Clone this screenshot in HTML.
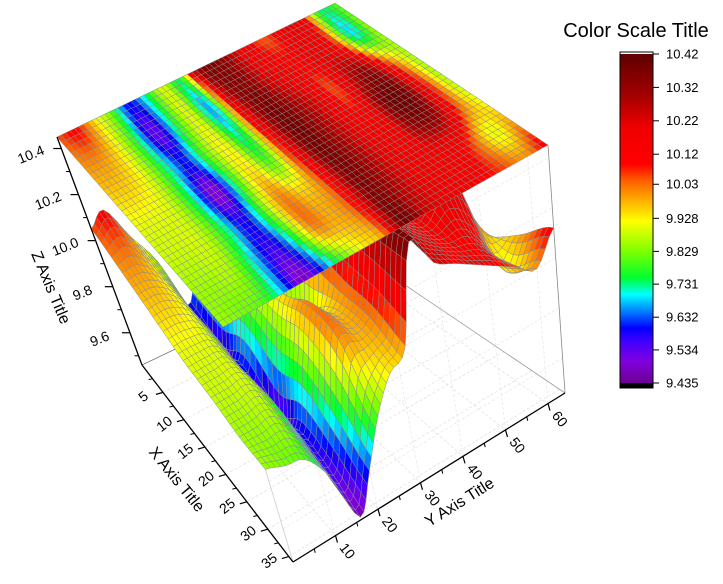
<!DOCTYPE html>
<html><head><meta charset="utf-8">
<style>
html,body{margin:0;padding:0;background:#fff;}
svg{display:block;font-family:"Liberation Sans",Arial,sans-serif;}
</style></head>
<body>
<svg id="chart" width="723" height="584" viewBox="0 0 723 584" xmlns="http://www.w3.org/2000/svg">
  <g id="walls"></g>
  <g id="surface"></g>
  <g id="plane"></g>
  <g id="axes"></g>
  <g id="colorscale"></g>
  <text x="636" y="37" font-size="20" text-anchor="middle" fill="#000">Color Scale Title</text>
</svg>
<script>
// ---- data ----
const xGrid=[0,6,12,18,24,30,36];
const yGrid=[0,4,8,12,16,20,24,28,32,36,40,44,48,52,56,60,64];
const zRow0=[10.05,10.1,9.95,9.82,9.6,9.72,9.9,9.75,10.3,10.35,10.25,10.1,10.05,10.2,10.15,9.75,9.8];
const zRow6=[10.0,10.0,9.92,9.75,9.52,9.75,9.9,9.66,10.2,10.35,10.25,10.15,10.1,10.2,10.1,9.7,9.85];
const zRow12=[9.95,9.95,9.9,9.75,9.6,9.8,9.92,9.72,10.15,10.38,10.3,10.2,10.05,10.25,10.3,10.0,9.85];
const zRow18=[9.9,9.9,9.88,9.72,9.48,9.76,9.95,9.8,10.1,10.38,10.3,10.2,10.1,10.35,10.38,10.1,9.85];
const zRow24=[9.88,9.88,9.88,9.75,9.58,9.8,10.02,9.95,10.05,10.35,10.3,10.2,10.15,10.3,10.3,10.05,9.9];
const zRow30=[9.85,9.85,9.85,9.7,9.55,9.72,10.0,9.98,10.05,10.35,10.28,10.2,10.15,10.15,10.05,9.9,10.0];
const zRow36=[9.85,9.82,9.8,9.68,9.47,9.62,9.8,9.93,10.0,10.38,10.25,10.2,10.15,10.1,10.05,10.0,10.12];
const zRows=[zRow0,zRow6,zRow12,zRow18,zRow24,zRow30,zRow36];
const xTicks=[5,10,15,20,25,30,35];
const yTicks=[10,20,30,40,50,60];
const zTicks=[9.6,9.8,10.0,10.2,10.4];
const zTickLabels=["9.6","9.8","10.0","10.2","10.4"];
const csTicks=[10.42,10.32,10.22,10.12,10.03,9.928,9.829,9.731,9.632,9.534,9.435];
const csLabels=["10.42","10.32","10.22","10.12","10.03","9.928","9.829","9.731","9.632","9.534","9.435"];
const cmapVals=[9.435,9.5,9.56,9.6,9.65,9.7,9.75,9.83,9.92,9.98,10.04,10.09,10.2,10.3,10.42];
const cmapCols=["#6c0090","#8000e0","#4000ff","#0000ff","#0080ff","#00ffff","#00ff30","#80ff00","#ffff00","#ffb000","#ff6000","#ff0000","#f00000","#a00000","#600000"];

// ---- geometry ----
const XMAX=36,YMAX=64,ZMIN=9.46,ZMAX=10.45;
const B00=[142,365],B10=[293,562],B01=[365,258],B11=[565,393];
const T00=[57,137],T10=[223,327],T01=[335,3],T11=[548,145];
const NS="http://www.w3.org/2000/svg";
function bil(a,b,c,d,u,v){return [(1-u)*(1-v)*a[0]+u*(1-v)*b[0]+(1-u)*v*c[0]+u*v*d[0],(1-u)*(1-v)*a[1]+u*(1-v)*b[1]+(1-u)*v*c[1]+u*v*d[1]];}
function proj(x,y,z){const u=x/XMAX,v=y/YMAX,w=(z-ZMIN)/(ZMAX-ZMIN);
  const b=bil(B00,B10,B01,B11,u,v),t=bil(T00,T10,T01,T11,u,v);
  return [b[0]+(t[0]-b[0])*w,b[1]+(t[1]-b[1])*w];}
function hex(c){return [parseInt(c.substr(1,2),16),parseInt(c.substr(3,2),16),parseInt(c.substr(5,2),16)];}
function cmap(z){
  if(z<=cmapVals[0])return cmapCols[0];
  for(let i=1;i<cmapVals.length;i++){if(z<=cmapVals[i]){const t=(z-cmapVals[i-1])/(cmapVals[i]-cmapVals[i-1]);
    const a=hex(cmapCols[i-1]),b=hex(cmapCols[i]);return "rgb("+a.map((q,k)=>Math.round(q+(b[k]-q)*t)).join(",")+")";}}
  return cmapCols[cmapCols.length-1];}
function cr(p0,p1,p2,p3,t){return 0.5*((2*p1)+(-p0+p2)*t+(2*p0-5*p1+4*p2-p3)*t*t+(-p0+3*p1-3*p2+p3)*t*t*t);}
function zAt(x,y){
  const gx=x/(xGrid[1]-xGrid[0]),gy=y/(yGrid[1]-yGrid[0]);
  const nx=xGrid.length,ny=yGrid.length;
  let i=Math.min(Math.floor(gx),nx-2),j=Math.min(Math.floor(gy),ny-2);
  const tx=gx-i,ty=gy-j;const cl=(k,n)=>Math.max(0,Math.min(n-1,k));
  const r=[];for(let a=-1;a<=2;a++){const row=zRows[cl(i+a,nx)];
    r.push(cr(row[cl(j-1,ny)],row[j],row[j+1],row[cl(j+2,ny)],ty));}
  return cr(r[0],r[1],r[2],r[3],tx);}
function pts(a){return a.map(p=>p[0].toFixed(1)+","+p[1].toFixed(1)).join(" ");}
function line(g,a,b,st,sw,name,dash){const l=document.createElementNS(NS,"line");
  l.setAttribute("x1",a[0]);l.setAttribute("y1",a[1]);l.setAttribute("x2",b[0]);l.setAttribute("y2",b[1]);
  l.setAttribute("stroke",st);l.setAttribute("stroke-width",sw);if(dash)l.setAttribute("stroke-dasharray",dash);
  
  
  g.appendChild(l);return l;}
function text(g,x,y,s,size,rot,name,anchor){const t=document.createElementNS(NS,"text");
  t.setAttribute("x",x);t.setAttribute("y",y);t.setAttribute("font-size",size);t.setAttribute("text-anchor",anchor||"middle");
  t.setAttribute("dominant-baseline","middle");
  if(rot)t.setAttribute("transform","rotate("+rot+" "+x+" "+y+")");t.textContent=s;
  
  
  g.appendChild(t);return t;}

// ---- walls / floor grid ----
const walls=document.getElementById("walls");
xTicks.forEach(x=>{line(walls,proj(x,0,ZMIN),proj(x,YMAX,ZMIN),"#e2e2e2",0.8,"floor-grid-x","3,2");});
yTicks.forEach(y=>{line(walls,proj(0,y,ZMIN),proj(XMAX,y,ZMIN),"#e2e2e2",0.8,"floor-grid-y","3,2");
  line(walls,proj(XMAX,y,ZMIN),proj(XMAX,y,ZMAX),"#e8e8e8",0.8,"wall-grid-y","3,2");});
zTicks.forEach(z=>{line(walls,proj(XMAX,0,z),proj(XMAX,YMAX,z),"#e8e8e8",0.8,"wall-grid-z","3,2");});
line(walls,proj(0,0,ZMIN),proj(0,YMAX,ZMIN),"#777",0.8,"box-edge");
line(walls,proj(0,YMAX,ZMIN),proj(XMAX,YMAX,ZMIN),"#999",0.8,"box-edge");
line(walls,proj(XMAX,YMAX,ZMIN),proj(XMAX,YMAX,ZMAX),"#888",0.8,"box-edge");
line(walls,proj(XMAX,0,ZMIN),proj(XMAX,0,ZMAX),"#ccc",0.8,"box-edge");

// ---- surface ----
const NX=36,NY=64;const zg=[];
for(let i=0;i<=NX;i++){zg.push([]);for(let j=0;j<=NY;j++)zg[i].push(zAt(i*XMAX/NX,j*YMAX/NY));}
const cells=[];
for(let i=0;i<NX;i++)for(let j=0;j<NY;j++)cells.push([i,j,(j+0.5)/NY-(i+0.5)/NX]);
cells.sort((a,b)=>b[2]-a[2]);
const surf=document.getElementById("surface");
cells.forEach(c=>{const i=c[0],j=c[1];const dx=XMAX/NX,dy=YMAX/NY;
  const z=[zg[i][j],zg[i+1][j],zg[i+1][j+1],zg[i][j+1]];
  const p=[proj(i*dx,j*dy,z[0]),proj((i+1)*dx,j*dy,z[1]),proj((i+1)*dx,(j+1)*dy,z[2]),proj(i*dx,(j+1)*dy,z[3])];
  const pg=document.createElementNS(NS,"polygon");pg.setAttribute("points",pts(p));
  pg.setAttribute("fill",cmap((z[0]+z[1]+z[2]+z[3])/4));pg.setAttribute("stroke","#8c8c8c");pg.setAttribute("stroke-width","0.5");
  
  
  surf.appendChild(pg);});
// ---- top projection plane ----
const plane=document.getElementById("plane");
for(let i=0;i<NX;i++)for(let j=0;j<NY;j++){const dx=XMAX/NX,dy=YMAX/NY;
  const zc=(zg[i][j]+zg[i+1][j]+zg[i+1][j+1]+zg[i][j+1])/4;
  const p=[proj(i*dx,j*dy,ZMAX),proj((i+1)*dx,j*dy,ZMAX),proj((i+1)*dx,(j+1)*dy,ZMAX),proj(i*dx,(j+1)*dy,ZMAX)];
  const pg=document.createElementNS(NS,"polygon");pg.setAttribute("points",pts(p));
  pg.setAttribute("fill",cmap(zc));pg.setAttribute("stroke","#8c8c8c");pg.setAttribute("stroke-width","0.5");
  
  
  plane.appendChild(pg);}

// ---- axes ----
const ax=document.getElementById("axes");
line(ax,proj(0,0,ZMIN),proj(XMAX,0,ZMIN),"#000",1.3,"x-axis-line");
line(ax,proj(XMAX,0,ZMIN),proj(XMAX,YMAX,ZMIN),"#000",1.3,"y-axis-line");
line(ax,proj(0,0,ZMIN),proj(0,0,ZMAX),"#000",1.3,"z-axis-line");
xTicks.forEach(x=>{const p=proj(x,0,ZMIN);line(ax,p,[p[0]-7,p[1]+2],"#000",1.2,"x-tick");
  text(ax,p[0]-19,p[1]+5,String(x),14,-38,"x-tick-label");});
for(let x=2.5;x<XMAX;x+=5){const p=proj(x,0,ZMIN);line(ax,p,[p[0]-4,p[1]+1],"#000",1,"x-minor-tick");}
yTicks.forEach(y=>{const p=proj(XMAX,y,ZMIN);line(ax,p,[p[0]+2,p[1]+7],"#000",1.2,"y-tick");
  text(ax,p[0]+11,p[1]+16,String(y),14,52,"y-tick-label");});
for(let y=5;y<YMAX;y+=10){const p=proj(XMAX,y,ZMIN);line(ax,p,[p[0]+1,p[1]+4],"#000",1,"y-minor-tick");}
zTicks.forEach((z,k)=>{const p=proj(0,0,z);line(ax,p,[p[0]-8,p[1]],"#000",1.2,"z-tick");
  text(ax,p[0]-30,p[1]+7,zTickLabels[k],14,-22,"z-tick-label");});
for(let z=9.5;z<10.45;z+=0.2){const p=proj(0,0,z);line(ax,p,[p[0]-4,p[1]],"#000",1,"z-minor-tick");}
text(ax,176,480,"X Axis Title",16,51,"x-axis-title");
text(ax,460,503,"Y Axis Title",16,-32,"y-axis-title");
text(ax,50,288,"Z Axis Title",16,67,"z-axis-title");

// ---- color scale ----
const cs=document.getElementById("colorscale");
const CS_TOP=54,CS_BOT=383,CSX=620,CSW=33;
const csY=v=>CS_BOT-(v-csTicks[csTicks.length-1])/(csTicks[0]-csTicks[csTicks.length-1])*(CS_BOT-CS_TOP);
for(let y=CS_TOP;y<CS_BOT;y+=1){const v=csTicks[csTicks.length-1]+(CS_BOT-y-0.5)/(CS_BOT-CS_TOP)*(csTicks[0]-csTicks[csTicks.length-1]);
  const r=document.createElementNS(NS,"rect");r.setAttribute("x",CSX);r.setAttribute("y",y);r.setAttribute("width",CSW);r.setAttribute("height",1.2);
  r.setAttribute("fill",cmap(v));
  
  
  cs.appendChild(r);}
const topStrip=document.createElementNS(NS,"rect");topStrip.setAttribute("x",CSX);topStrip.setAttribute("y",52);topStrip.setAttribute("width",CSW);topStrip.setAttribute("height",2);topStrip.setAttribute("fill","#fff");


cs.appendChild(topStrip);
const botStrip=document.createElementNS(NS,"rect");botStrip.setAttribute("x",CSX);botStrip.setAttribute("y",CS_BOT);botStrip.setAttribute("width",CSW);botStrip.setAttribute("height",5);botStrip.setAttribute("fill","#000");


cs.appendChild(botStrip);
const frame=document.createElementNS(NS,"rect");frame.setAttribute("x",CSX);frame.setAttribute("y",52);frame.setAttribute("width",CSW);frame.setAttribute("height",CS_BOT+5-52);frame.setAttribute("fill","none");frame.setAttribute("stroke","#000");frame.setAttribute("stroke-width","1");


cs.appendChild(frame);
csTicks.forEach((v,k)=>{const y=csY(v);line(cs,[CSX+CSW,y],[CSX+CSW+6,y],"#000",1,"color-scale-tick");
  text(cs,CSX+CSW+13,y+1,csLabels[k],13,0,"color-scale-label","start");});
</script>
</body></html>
